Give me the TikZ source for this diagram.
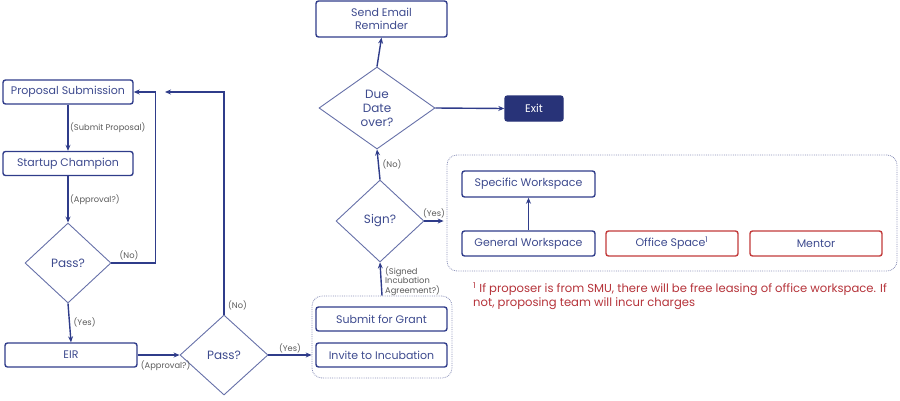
\documentclass[tikz,border=0pt]{standalone}
\usepackage{fontspec}
\setmainfont{Poppins}
\usetikzlibrary{shapes.geometric,arrows.meta,calc}
\definecolor{navy}{HTML}{2F3C8A}
\definecolor{navytext}{HTML}{3D4A8E}
\definecolor{dline}{HTML}{6670A8}
\definecolor{lblgray}{HTML}{5A5A5A}
\definecolor{redb}{HTML}{C23B3B}
\definecolor{redt}{HTML}{B5333A}
\definecolor{grpline}{HTML}{8A90B8}
\definecolor{exitfill}{HTML}{283378}
\begin{document}
\begin{tikzpicture}[x=1pt,y=-1pt,
  box/.style={draw=navy,line width=1.4pt,rounded corners=2.5pt,text=navytext,font=\fontsize{11}{12.5}\selectfont,minimum width=130pt,minimum height=24pt,inner sep=0pt,align=center},
  redbox/.style={box,draw=redb},
  dia/.style={diamond,draw=dline,line width=0.9pt,text=navytext,font=\fontsize{12}{14}\selectfont,inner sep=0pt,align=center},
  grp/.style={draw=grpline,densely dotted,line width=0.8pt,rounded corners=10pt,inner sep=0pt},
  arr/.style={draw=navy,line width=1.4pt,-{Stealth[length=6pt,width=5pt]}},
  lbl/.style={text=lblgray,font=\fontsize{8.3}{9.5}\selectfont,inner sep=1.5pt}]
\useasboundingbox (0,0) rectangle (900,400);
% left column
\node[box] (ps) at (68,92) {Proposal Submission};
\node[box] (sc) at (68,163.5) {Startup Champion};
\node[dia,minimum width=86pt,minimum height=80pt] (d1) at (68,263) {Pass?};
\node[box,minimum width=132pt] (eir) at (71,355) {EIR};
\node[dia,minimum width=88pt,minimum height=80pt] (d2) at (224,355) {Pass?};
% middle group
\node[grp,minimum width=140pt,minimum height=82pt] (g1) at (382,337) {};
\node[box,minimum width=131pt] (sg) at (381.5,319) {Submit for Grant};
\node[box,minimum width=131pt] (ii) at (381.5,355) {Invite to Incubation};
\node[dia,minimum width=88pt,minimum height=82pt] (d3) at (380,221) {Sign?};
\node[dia,minimum width=116pt,minimum height=82pt] (d4) at (377,108) {Due\\Date\\over?};
\node[box,minimum width=131pt,minimum height=36pt] (em) at (381.5,19) {Send Email\\Reminder};
\node[box,fill=exitfill,draw=exitfill,text=white,minimum width=58pt,minimum height=25pt] (ex) at (534,108.5) {Exit};
% right group
\node[grp,minimum width=450pt,minimum height=116pt] (g2) at (672,213) {};
\node[box,minimum width=133pt,minimum height=26pt] (sw) at (528.5,184) {Specific Workspace};
\node[box,minimum width=133pt,minimum height=25pt] (gw) at (528.5,243.5) {General Workspace};
\node[redbox,minimum width=132pt,minimum height=25pt] (os) at (672,243.5) {Office Space\textsuperscript{1}};
\node[redbox,minimum width=132pt,minimum height=25pt] (mt) at (816,243.5) {Mentor};
\node[anchor=north west,text=redt,font=\fontsize{11.6}{14}\selectfont,align=left,inner sep=0pt] (fn) at (473,282)
  {\textsuperscript{1} If proposer is from SMU, there will be free leasing of office workspace. If\\not, proposing team will incur charges};
% connectors
\draw[arr] (ps.south) -- (sc.north) node[lbl,midway,right] {(Submit Proposal)};
\draw[arr] (sc.south) -- (d1.north) node[lbl,midway,right] {(Approval?)};
\draw[arr] (d1.south) -- (eir.north) node[lbl,midway,right,xshift=2pt] {(Yes)};
\draw[arr] (d1.east) node[lbl,above right,xshift=6pt,yshift=1pt] {(No)} -| ($(ps.east)+(22,0)$) -- (ps.east);
\coordinate (r2) at (165,92);
\draw[arr] (d2.north) node[lbl,above right,xshift=2pt,yshift=2pt] {(No)} |- (r2);
\draw[arr] (eir.east) -- (d2.west) node[lbl,midway,below,yshift=-4pt,xshift=7pt] {(Approval?)};
\draw[arr] (d2.east) -- (d2.east -| g1.west) node[lbl,midway,above] {(Yes)};
\draw[arr] (g1.north) -- (d3.south) node[lbl,midway,right,align=left,font=\fontsize{8.3}{9.6}\selectfont,xshift=2pt,yshift=-2pt] {(Signed\\Incubation\\Agreement?)};
\draw[arr] (d3.north) -- (d4.south) node[lbl,midway,right,xshift=2pt] {(No)};
\draw[arr] (d3.east) -- ($(d3.east -| g2.west)+(-3,0)$) node[lbl,midway,above,yshift=1pt] {(Yes)};
\draw[arr] (d4.north) -- (em.south);
\draw[arr] (d4.east) -- (ex.west);
\draw[arr] (gw.north) -- (sw.south);
\end{tikzpicture}
\end{document}
